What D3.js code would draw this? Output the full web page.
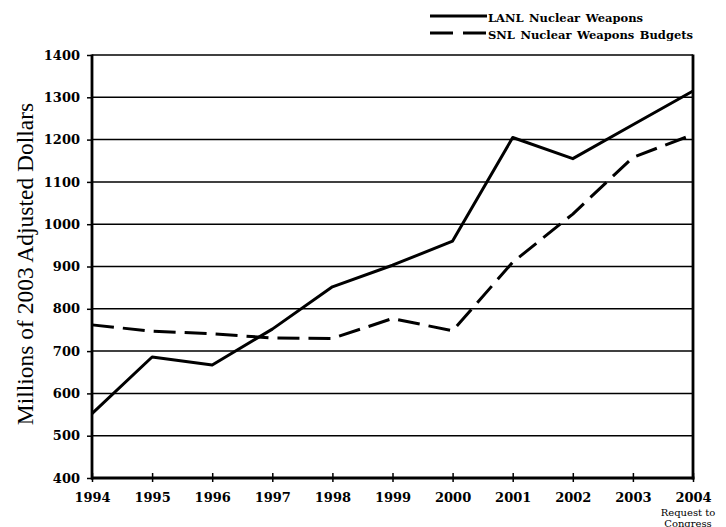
<!DOCTYPE html>
<html><head><meta charset="utf-8">
<script src="https://cdn.jsdelivr.net/npm/d3@7"></script>
<style>body{margin:0;background:#fff;overflow:hidden}</style>
</head><body><svg id="c" width="726" height="527"></svg>
<script>
const years = [1994,1995,1996,1997,1998,1999,2000,2001,2002,2003,2004];
const lanl = [552,686,667,752,852,903,960,1205,1155,1235,1315];
const snl = [762,747,741,731,730,777,748,910,1024,1158,1212];
const yTicks = [400,500,600,700,800,900,1000,1100,1200,1300,1400];
const xTickLabels = ["1994","1995","1996","1997","1998","1999","2000","2001","2002","2003","2004"];
const seriesNames = ["LANL Nuclear Weapons","SNL Nuclear Weapons Budgets"];
const yTitle = "Millions of 2003 Adjusted Dollars";
const lastNote = ["Request to","Congress"];

const svg = d3.select("#c");
const pL = 92, pR = 693, pT = 55, pB = 478;
const x = d3.scaleLinear().domain([1994,2004]).range([pL,pR]);
const y = d3.scaleLinear().domain([400,1400]).range([pB,pT]);
const boldSerif = "'DejaVu Serif', serif";
const serif = "'Liberation Serif', 'Times New Roman', serif";

// gridlines
svg.append("g").selectAll("line").data(yTicks).join("line")
  .attr("x1", pL).attr("x2", pR)
  .attr("y1", d => y(d)).attr("y2", d => y(d))
  .attr("stroke", "#000").attr("stroke-width", 1.5);

// y axis
const ya = svg.append("g").attr("transform", `translate(${pL},0)`)
  .call(d3.axisLeft(y).tickValues(yTicks).tickSize(5).tickPadding(7).tickFormat(d3.format("d")));
ya.select(".domain").remove();
ya.selectAll(".tick line").attr("stroke", "#000").attr("stroke-width", 1.5);
ya.selectAll("text").attr("font-family", boldSerif).attr("font-weight", "bold")
  .attr("font-size", "13px").attr("fill", "#000");

// x axis
const xa = svg.append("g").attr("transform", `translate(0,${pB})`)
  .call(d3.axisBottom(x).tickValues(years).tickSize(4).tickPadding(11)
    .tickFormat((d,i) => xTickLabels[i]));
xa.select(".domain").remove();
xa.selectAll(".tick line").attr("y1", -5).attr("y2", 4).attr("stroke", "#000").attr("stroke-width", 1.5);
xa.selectAll("text").attr("font-family", boldSerif).attr("font-weight", "bold")
  .attr("font-size", "13px").attr("fill", "#000");

// frame lines
svg.append("line").attr("x1", pL).attr("x2", pL).attr("y1", pT - 0.5).attr("y2", pB + 1.5)
  .attr("stroke", "#000").attr("stroke-width", 2.8);
svg.append("line").attr("x1", pR).attr("x2", pR).attr("y1", pT - 0.5).attr("y2", pB + 1.5)
  .attr("stroke", "#000").attr("stroke-width", 2.8);
svg.append("line").attr("x1", pL - 1).attr("x2", pR + 1.4).attr("y1", pB).attr("y2", pB)
  .attr("stroke", "#000").attr("stroke-width", 3);

// note under last tick
svg.selectAll("text.note").data(lastNote).join("text").attr("class", "note")
  .attr("x", x(2004) - 5).attr("y", (d,i) => 515.5 + i * 11.5)
  .attr("text-anchor", "middle").attr("font-family", "'DejaVu Serif', serif").attr("font-size", "10px")
  .attr("fill", "#000").text(d => d);

// series lines
const line = d3.line().x((d,i) => x(years[i])).y(d => y(d));
svg.append("path").datum(lanl).attr("d", line).attr("fill", "none")
  .attr("stroke", "#000").attr("stroke-width", 3).attr("stroke-linejoin", "round");
svg.append("path").datum(snl).attr("d", line).attr("fill", "none")
  .attr("stroke", "#000").attr("stroke-width", 3).attr("stroke-linejoin", "round")
  .attr("stroke-dasharray", "22,9");

// y title
svg.append("text").attr("transform", "translate(33,264) rotate(-90)")
  .attr("text-anchor", "middle").attr("font-family", serif).attr("font-size", "23.5px")
  .attr("fill", "#000").text(yTitle);

// legend
const leg = svg.append("g");
const legY = [16, 33];
leg.selectAll("line").data(seriesNames).join("line")
  .attr("x1", 430).attr("x2", 487).attr("y1", (d,i) => legY[i]).attr("y2", (d,i) => legY[i])
  .attr("stroke", "#000").attr("stroke-width", 3)
  .attr("stroke-dasharray", (d,i) => i ? "23,10" : null);
leg.selectAll("text").data(seriesNames).join("text")
  .attr("x", 488).attr("y", (d,i) => legY[i] + 5.5)
  .attr("font-family", boldSerif).attr("font-weight", "bold").attr("font-size", "11.5px")
  .attr("word-spacing", "1.5px")
  .attr("fill", "#000").text(d => d);
</script></body></html>
